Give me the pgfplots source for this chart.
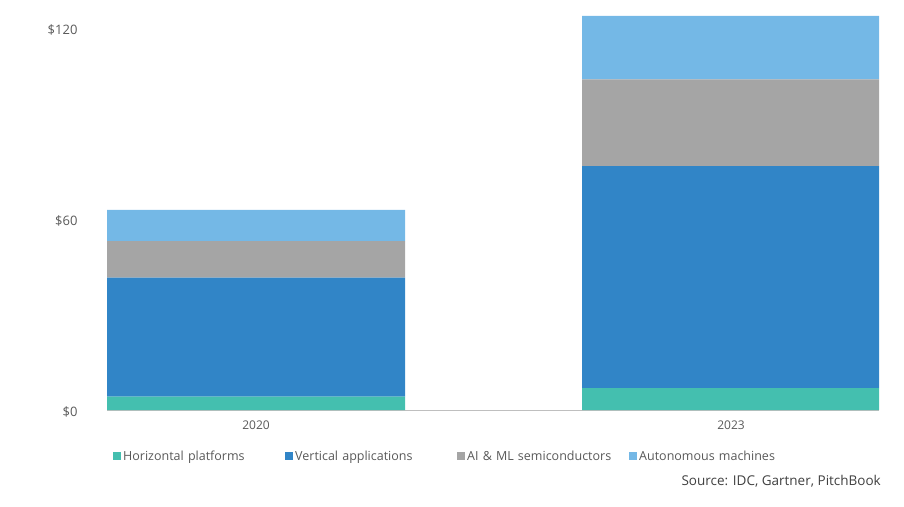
\documentclass[border=0pt]{standalone}
\usepackage{pgfplots}
\pgfplotsset{compat=1.18}
\usepackage{fontspec}
\setmainfont{Open Sans}
\definecolor{horiz}{HTML}{44BFAF}
\definecolor{vert}{HTML}{3185C7}
\definecolor{aiml}{HTML}{A5A5A5}
\definecolor{auton}{HTML}{74B8E6}
\definecolor{txt}{HTML}{595959}
\definecolor{axline}{HTML}{BFBFBF}

% market size by segment, $B
\pgfplotstableread{
x h v ai auto
0 4.2 37.4 11.5 9.8
1 6.9 69.8 27.3 19.9
}\segments

\begin{document}
\begin{tikzpicture}
\path[use as bounding box] (0pt,0pt) rectangle (904pt,506pt);
\begin{axis}[
  at={(107pt,96pt)}, anchor=south west,
  scale only axis,
  width=772pt, height=400.7pt,
  ybar stacked,
  bar width=298pt,
  xmin=-0.3137, xmax=1.3116,
  ymin=0, ymax=126,
  axis y line*=left,
  y axis line style={draw=none},
  axis x line*=bottom,
  x axis line style={draw=axline, line width=0.8pt},
  xtick={0,1}, xticklabels={2020,2023},
  ytick={0,60,120}, yticklabels={\$0,\$60,\$120},
  major tick length=0pt,
  tick style={draw=none},
  xticklabel style={text=txt, font=\fontsize{12}{14}\selectfont, yshift=-7pt},
  yticklabel style={text=txt, font=\fontsize{13}{15}\selectfont, anchor=east, xshift=-26pt, yshift=-1.5pt},
  legend columns=4,
  legend style={at={(0,0)}, anchor=west, xshift=6pt, yshift=-46pt,
    draw=none, fill=none, inner sep=0pt,
    nodes={text width=160pt, inner xsep=2pt, text=txt, font=\fontsize{12.5}{14}\selectfont}},
  legend cell align=left,
  legend image code/.code={\fill[#1] (0pt,-4pt) rectangle (8pt,4pt);},
]
\addplot[fill=horiz, draw=none] table[x=x, y=h] {\segments};
\addplot[fill=vert, draw=none] table[x=x, y=v] {\segments};
\addplot[fill=aiml, draw=none] table[x=x, y=ai] {\segments};
\addplot[fill=auton, draw=none] table[x=x, y=auto] {\segments};
\legend{Horizontal platforms, Vertical applications, AI \& ML semiconductors, Autonomous machines}
\end{axis}
\node[anchor=east, inner xsep=0pt, text=black!75, font=\fontsize{13.5}{15}\selectfont] at (881pt,25pt) {Source: IDC, Gartner, PitchBook};
\end{tikzpicture}
\end{document}
